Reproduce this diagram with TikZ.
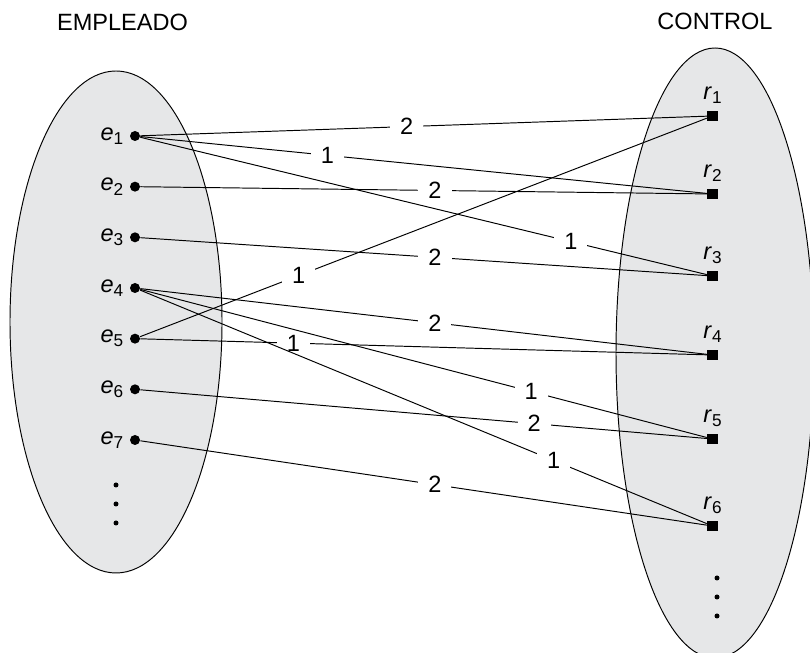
\documentclass[tikz,border=0pt]{standalone}
\usepackage{fontspec}
\setmainfont{Liberation Sans}
\usepackage{tikz}
\usetikzlibrary{positioning}
\usetikzlibrary{shapes,calc}
\definecolor{setgray}{RGB}{230,231,232}
\newcommand{\elem}[2]{\textit{#1}\raisebox{-2.3pt}{\fontsize{9.8pt}{11pt}\selectfont #2}}
\tikzset{emp node/.style={circle,fill=black,minimum size=0.2cm,inner sep=0pt},
  ctrl node/.style={rectangle,fill=black,minimum size=0.21cm,inner sep=0pt},
  weight/.style={fill=white,inner xsep=0.2cm,inner ysep=1pt},}

\begin{document}
\begin{tikzpicture}[node distance=0.794cm,line width=0.55pt,font=\fontsize{13.4pt}{16pt}\selectfont]
    \useasboundingbox (0,0) rectangle (16.2,13.06);
    \clip (0,0) rectangle (16.2,13.06);
    \draw[fill=setgray] (2.32,6.62) ellipse [x radius=2.12cm, y radius=5.02cm];
    \draw[fill=setgray] (14.30,6.00) ellipse [x radius=1.98cm, y radius=6.10cm];

    \node (emp) at (2.45,12.62) {EMPLEADO};
    \node (ctrl) at (14.30,12.64) {CONTROL};

    \node[emp node] (e1) at (2.70,10.34) [label={[label distance=0pt]left:\elem{e}{1}}] {};
    \node[emp node] (e2) [below = of e1, label={[label distance=0pt]left:\elem{e}{2}}] {};
    \node[emp node] (e3) [below = of e2, label={[label distance=0pt]left:\elem{e}{3}}] {};
    \node[emp node] (e4) [below = of e3, label={[label distance=0pt]left:\elem{e}{4}}] {};
    \node[emp node] (e5) [below = of e4, label={[label distance=0pt]left:\elem{e}{5}}] {};
    \node[emp node] (e6) [below = of e5, label={[label distance=0pt]left:\elem{e}{6}}] {};
    \node[emp node] (e7) [below = of e6, label={[label distance=0pt]left:\elem{e}{7}}] {};

    \node[ctrl node] (r1) at (14.25,10.74) [label=above:\elem{r}{1}] {};
    \node[ctrl node] (r2) at (14.25,9.18) [label=above:\elem{r}{2}] {};
    \node[ctrl node] (r3) at (14.25,7.54) [label=above:\elem{r}{3}] {};
    \node[ctrl node] (r4) at (14.25,5.96) [label=above:\elem{r}{4}] {};
    \node[ctrl node] (r5) at (14.25,4.28) [label=above:\elem{r}{5}] {};
    \node[ctrl node] (r6) at (14.25,2.54) [label=above:\elem{r}{6}] {};

    \foreach \y in {3.36,2.98,2.60}
        \fill (2.32,\y) circle (0.05);
    \foreach \y in {1.50,1.12,0.74}
        \fill (14.34,\y) circle (0.05);

    \path[draw]
    (e1) edge node[weight,pos=.47] {2} (r1)
    (e1) edge node[weight,pos=.33] {1} (r2)
    (e1) edge node[weight,pos=.76] {1} (r3)
    (e2) edge node[weight,pos=.52] {2} (r2)
    (e3) edge node[weight,pos=.52] {2} (r3)
    (e5) edge node[weight,pos=.28] {1} (r1)
    (e4) edge node[weight,pos=.52] {2} (r4)
    (e5) edge node[weight,pos=.27] {1} (r4)
    (e4) edge node[weight,pos=.69] {1} (r5)
    (e6) edge node[weight,pos=.695] {2} (r5)
    (e4) edge node[weight,pos=.73] {1} (r6)
    (e7) edge node[weight,pos=.52] {2} (r6);
\end{tikzpicture}
\end{document}
